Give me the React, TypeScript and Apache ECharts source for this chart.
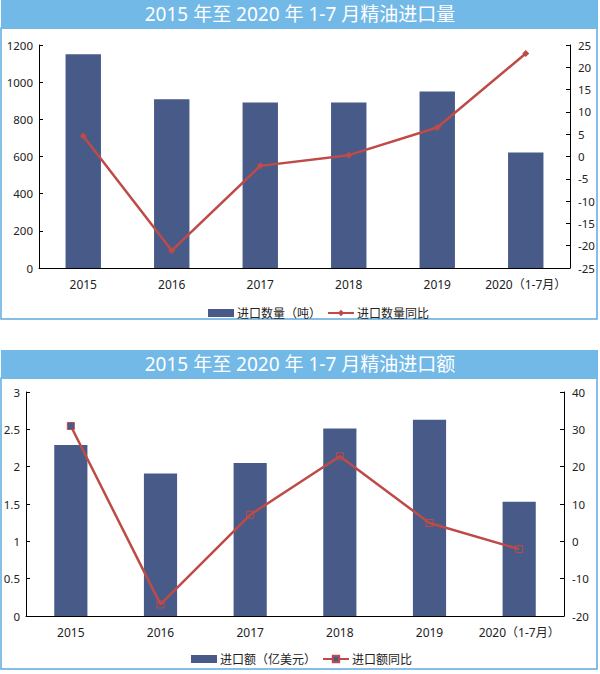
import React, { useEffect, useRef } from "react";
import * as echarts from "echarts";

const categories = ["2015", "2016", "2017", "2018", "2019", "2020（1-7月）"];
const volume = [1150, 908, 890, 890, 950, 622];
const volumeYoY = [4.6, -21.1, -2.1, 0.3, 6.5, 23.1];
const amount = [2.29, 1.91, 2.05, 2.51, 2.63, 1.53];
const amountYoY = [30.9, -16.9, 7.1, 22.8, 4.9, -2.1];

const title1 = "2015 年至 2020 年 1-7 月精油进口量";
const title2 = "2015 年至 2020 年 1-7 月精油进口额";
const seriesNames1 = ["进口数量（吨）", "进口数量同比"];
const seriesNames2 = ["进口额（亿美元）", "进口额同比"];

const BAR = "#485a88";
const RED = "#be4b48";
const TITLE_BG = "#72b9e8";
const BORDER = "#5fa9dd";
const FONT = "'Noto Sans', 'Noto Sans CJK SC', sans-serif";

export default function App() {
  const ref = useRef<HTMLDivElement>(null);
  useEffect(() => {
    document.body.style.margin = "0";
    const chart = echarts.init(ref.current!, null, { renderer: "svg" });
    const axisLabel = { color: "#222", fontSize: 11.5, fontFamily: FONT, formatter: (v: number) => String(v) };
    const valAxisCommon = {
      type: "value" as const,
      axisLine: { show: true, lineStyle: { color: "#000", width: 1 } },
      axisTick: { show: true, inside: true, length: 4, lineStyle: { color: "#000" } },
      splitLine: { show: false },
    };
    const catAxisCommon = {
      type: "category" as const,
      data: categories,
      axisLine: { lineStyle: { color: "#000", width: 1 } },
      axisTick: { show: false },
      axisLabel: { color: "#222", fontSize: 12, fontFamily: FONT, margin: 10, interval: 0 },
    };
    const legendCommon = {
      orient: "horizontal" as const,
      itemWidth: 26, itemHeight: 8, itemGap: 6,
      textStyle: { fontSize: 12, color: "#222", fontFamily: FONT, padding: [0, 0, 0, -2] },
    };
    chart.setOption({
      animation: false,
      textStyle: { fontFamily: FONT },
      graphic: [
        { type: "rect", shape: { x: 1, y: 28, width: 596, height: 291 }, style: { fill: "#fff", stroke: BORDER, lineWidth: 1.5 }, z: -10 },
        { type: "rect", shape: { x: 1, y: 0, width: 597, height: 29 }, style: { fill: TITLE_BG }, z: -9 },
        { type: "text", x: 300, y: 14, style: { text: title1, fill: "#fff", fontSize: 19, fontFamily: FONT, align: "center", verticalAlign: "middle" } },
        { type: "rect", shape: { x: 1, y: 378, width: 596, height: 291 }, style: { fill: "#fff", stroke: BORDER, lineWidth: 1.5 }, z: -10 },
        { type: "rect", shape: { x: 1, y: 350, width: 597, height: 29 }, style: { fill: TITLE_BG }, z: -9 },
        { type: "text", x: 300, y: 364, style: { text: title2, fill: "#fff", fontSize: 19, fontFamily: FONT, align: "center", verticalAlign: "middle" } },
      ],
      grid: [
        { left: 39, right: 30, top: 45, height: 223 },
        { left: 26, right: 36, top: 392, height: 224 },
      ],
      legend: [
        {
          ...legendCommon,
          data: [{ name: seriesNames1[0], icon: "rect" }, { name: seriesNames1[1] }],
          top: 302, left: 203,
        },
        {
          ...legendCommon,
          data: [{ name: seriesNames2[0], icon: "rect" }, { name: seriesNames2[1] }],
          top: 648, left: 186,
        },
      ],
      xAxis: [
        { ...catAxisCommon, gridIndex: 0 },
        { ...catAxisCommon, gridIndex: 1 },
      ],
      yAxis: [
        { ...valAxisCommon, gridIndex: 0, min: 0, max: 1200, interval: 200, axisLabel: { ...axisLabel, margin: 6 } },
        { ...valAxisCommon, gridIndex: 0, position: "right", min: -25, max: 25, interval: 5, axisLabel: { ...axisLabel, margin: 8 } },
        { ...valAxisCommon, gridIndex: 1, min: 0, max: 3, interval: 0.5, axisLabel: { ...axisLabel, margin: 6 } },
        { ...valAxisCommon, gridIndex: 1, position: "right", min: -20, max: 40, interval: 10, axisLabel: { ...axisLabel, margin: 8 } },
      ],
      series: [
        {
          name: seriesNames1[0], type: "bar", xAxisIndex: 0, yAxisIndex: 0, data: volume,
          barWidth: "40%", itemStyle: { color: BAR },
        },
        {
          name: seriesNames1[1], type: "line", xAxisIndex: 0, yAxisIndex: 1, data: volumeYoY,
          symbol: "diamond", symbolSize: 7, lineStyle: { color: RED, width: 2.5 }, itemStyle: { color: RED },
        },
        {
          name: seriesNames2[0], type: "bar", xAxisIndex: 1, yAxisIndex: 2, data: amount,
          barWidth: "37%", itemStyle: { color: BAR },
        },
        {
          name: seriesNames2[1], type: "line", xAxisIndex: 1, yAxisIndex: 3,
          data: amountYoY.map((v, i) => (i === 0 ? v : { value: v, itemStyle: { color: "rgba(0,0,0,0)" } })),
          symbol: "rect", symbolSize: 7, showAllSymbol: true,
          lineStyle: { color: RED, width: 2.5 }, itemStyle: { color: BAR, borderColor: RED, borderWidth: 1 },
        },
      ],
    });
    return () => chart.dispose();
  }, []);
  return <div ref={ref} style={{ width: 600, height: 674 }} />;
}
